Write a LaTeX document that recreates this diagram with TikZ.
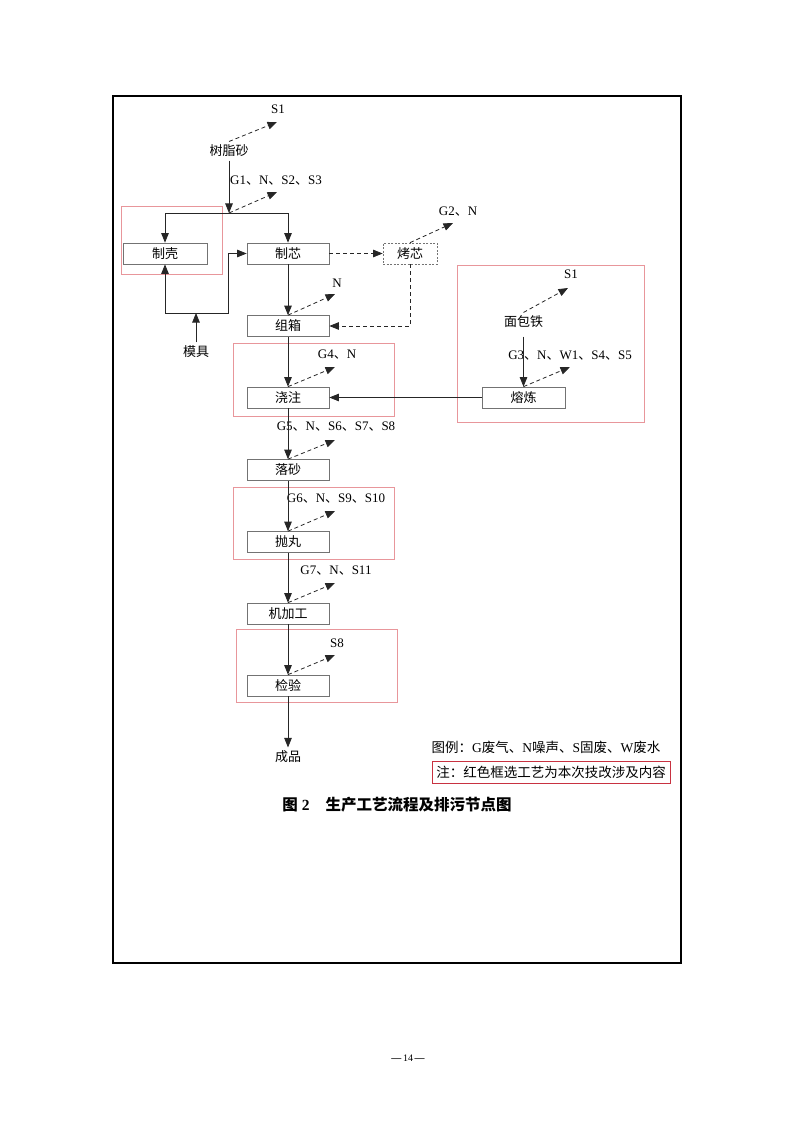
\documentclass[tikz,border=0pt]{standalone}
\usepackage{fontspec}
\setmainfont{Liberation Serif}
\newfontfamily\cjk{Noto Sans CJK SC}
\usetikzlibrary{arrows.meta}
\newcommand{\dun}{{\cjk 、}}
\definecolor{framered}{RGB}{232,150,155}
\definecolor{notered}{RGB}{200,50,65}

\begin{document}
\begin{tikzpicture}[x=1pt, y=-1pt,
	every node/.style={font=\fontsize{13}{15}\selectfont},
	cjktext/.style={font=\cjk\fontsize{13}{15}\selectfont},
	proc/.style={draw=black!55, line width=0.7pt, minimum width=82pt, minimum height=21pt, inner sep=0pt, font=\cjk\fontsize{13}{15}\selectfont},
	flow/.style={draw=black!85, line width=0.8pt, -{Triangle[length=9.5pt,width=7.5pt]}},
	emit/.style={flow, dash pattern=on 4pt off 3pt},
	redbox/.style={draw=framered, line width=0.6pt}]
	\useasboundingbox (0,0) rectangle (794,1123);
	\draw [line width=1.2pt] (113,96) rectangle (681,963);
	% red frames
	\draw [redbox] (121,206) rectangle (222,274);
	\draw [redbox] (233,343) rectangle (394,416);
	\draw [redbox] (457,265) rectangle (644,422);
	\draw [redbox] (233,487) rectangle (394,559);
	\draw [redbox] (236,629) rectangle (397,702);
	% process boxes
	\node [proc, minimum width=84pt] (zk) at (165,253.5) {制壳};
	\node [proc] (zx) at (288,253.5) {制芯};
	\node [proc, minimum width=54pt, draw=black!55, dash pattern=on 2pt off 1.5pt] (hx) at (410,253.5) {烤芯};
	\node [proc] (zxg) at (288,326) {组箱};
	\node [proc] (jz) at (288,397.5) {浇注};
	\node [proc, minimum width=83pt] (rl) at (523.5,397.5) {熔炼};
	\node [proc] (ls) at (288,470) {落砂};
	\node [proc] (pw) at (288,542) {抛丸};
	\node [proc] (jjg) at (288,613.5) {机加工};
	\node [proc] (jy) at (288,685.5) {检验};
	\node [cjktext] (cp) at (288,757) {成品};
	\node [cjktext] (resin) at (229,151) {树脂砂};
	\node [cjktext] (mj) at (196,352) {模具};
	\node [cjktext] (mbt) at (523.5,322) {面包铁};
	% emission labels
	\node (l-resin) at (278,109) {S1};
	\node (l-fork) at (276,181) {G1\dun N\dun S2\dun S3};
	\node (l-hx) at (458,212) {G2\dun N};
	\node (l-zxg) at (337,283) {N};
	\node (l-jz) at (337,355) {G4\dun N};
	\node (l-mbt) at (571,274) {S1};
	\node (l-rl) at (570,356) {G3\dun N\dun W1\dun S4\dun S5};
	\node (l-ls) at (336,427) {G5\dun N\dun S6\dun S7\dun S8};
	\node (l-pw) at (336,499) {G6\dun N\dun S9\dun S10};
	\node (l-jjg) at (336,571) {G7\dun N\dun S11};
	\node (l-jy) at (337,643) {S8};
	% main flow
	\coordinate (fork) at (229,213);
	\coordinate (mjtop) at (196,313);
	\draw [flow] (resin) -- (fork);
	\draw [flow] (fork) -| (zk.north);
	\draw [flow] (fork) -| (zx.north);
	\draw [flow] (mj) -- (mjtop);
	\draw [flow] (mjtop) -| (zk.south);
	\draw [flow] (mjtop) -- (228,313) |- (zx.west);
	\draw [emit] (zx) -- (hx);
	\draw [emit] (hx.south) |- (zxg.east);
	\draw [flow] (zx) -- (zxg);
	\draw [flow] (zxg) -- (jz);
	\draw [flow] (mbt.south) ++(0,5) -- (rl.north);
	\draw [flow] (rl) -- (jz);
	\draw [flow] (jz) -- (ls);
	\draw [flow] (ls) -- (pw);
	\draw [flow] (pw) -- (jjg);
	\draw [flow] (jjg) -- (jy);
	\draw [flow] (jy) -- (cp);
	% emissions
	\draw [emit] (resin.north) -- (277,122) coordinate (e-resin);
	\draw [emit] (fork) -- (277,192) coordinate (e-fork);
	\draw [emit] (hx.north) -- (453,223) coordinate (e-hx);
	\draw [emit] (zxg.north) -- (335,294) coordinate (e-zxg);
	\draw [emit] (jz.north) -- (335,367) coordinate (e-jz);
	\draw [emit] (mbt.north) -- (568,288) coordinate (e-mbt);
	\draw [emit] (rl.north) -- (570,367) coordinate (e-rl);
	\draw [emit] (ls.north) -- (335,440) coordinate (e-ls);
	\draw [emit] (pw.north) -- (335,511) coordinate (e-pw);
	\draw [emit] (jjg.north) -- (335,583) coordinate (e-jjg);
	\draw [emit] (jy.north) -- (335,655) coordinate (e-jy);
	% legend and caption
	\node [font=\fontsize{13.5}{16}\selectfont] (legend) at (546,747) {{\cjk 图例：}G{\cjk 废气、}N{\cjk 噪声、}S{\cjk 固废、}W{\cjk 废水}};
	\node [draw=notered, line width=0.8pt, minimum width=238pt, minimum height=22pt, inner sep=0pt, font=\cjk\fontsize{13.5}{16}\selectfont] (note) at (551,772) {注：红色框选工艺为本次技改涉及内容};
	\node [font=\fontsize{15.5}{18}\selectfont\bfseries] (title) at (397,805) {{\cjk 图} 2\hspace{16pt}{\cjk 生产工艺流程及排污节点图}};
	\node [font=\fontsize{10}{12}\selectfont] (page) at (408,1058) {\textbf{—}\,14\,\textbf{—}};
\end{tikzpicture}
\end{document}
